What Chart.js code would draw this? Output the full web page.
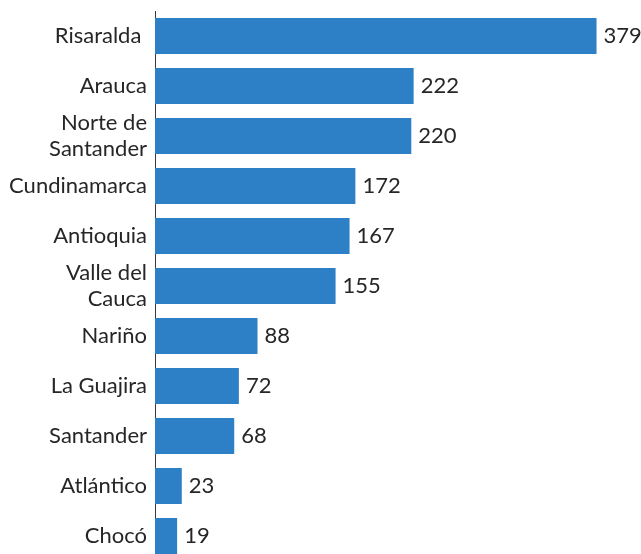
<!DOCTYPE html>
<html>
<head>
<meta charset="utf-8">
<script src="https://cdn.jsdelivr.net/npm/chart.js@4/dist/chart.umd.min.js"></script>
<style>
  html, body { margin: 0; padding: 0; background: #fff; }
  #wrap { width: 641px; height: 554px; overflow: hidden; }
  #box { width: 641px; height: 561px; position: relative; }
</style>
</head>
<body>
<div id="wrap"><div id="box"><canvas id="DeptChart"></canvas></div></div>
<script>
var departamentos = [
	'Risaralda ', 'Arauca', ['Norte de', 'Santander'], 'Cundinamarca', 'Antioquia',
	['Valle del', 'Cauca'], 'Nariño', 'La Guajira', 'Santander', 'Atlántico', 'Chocó'
];
var casos = [379, 222, 220, 172, 167, 155, 88, 72, 68, 23, 19];

var fontName = 'Lato, "Open Sans", sans-serif';
var textColor = '#262626';

// value labels at the end of each bar
var valueLabels = {
	id: 'valueLabels',
	afterDatasetsDraw: function(chart) {
		var ctx = chart.ctx;
		var meta = chart.getDatasetMeta(0);
		ctx.save();
		ctx.font = '22px ' + fontName;
		ctx.fillStyle = textColor;
		ctx.textAlign = 'left';
		ctx.textBaseline = 'middle';
		meta.data.forEach(function(bar, i) {
			ctx.fillText(casos[i], bar.x + 7, bar.y);
		});
		ctx.restore();
	}
};

var ctx = DeptChart.getContext('2d');
var config = {
	type: 'bar',
	data: {
		labels: departamentos,
		datasets: [{
			data: casos,
			backgroundColor: '#2E80C6',
			barPercentage: 0.72,
			categoryPercentage: 1
		}]
	},
	options: {
		indexAxis: 'y',
		responsive: true,
		maintainAspectRatio: false,
		animation: false,
		layout: { padding: { top: 11, right: 20, bottom: 0, left: 0 } },
		plugins: {
			legend: { display: false },
			tooltip: { enabled: false }
		},
		scales: {
			x: {
				display: false,
				min: 0,
				max: 400
			},
			y: {
				afterFit: function(scale) {
					scale.width = 155;
					scale.paddingTop = 0;
					scale.paddingBottom = 0;
				},
				grid: { display: false, drawTicks: false },
				border: { display: true, color: '#3a3a3a', width: 1 },
				ticks: {
					autoSkip: false,
					padding: 8,
					color: textColor,
					font: { family: fontName, size: 22, lineHeight: 1.2 }
				}
			}
		}
	},
	plugins: [valueLabels]
};

var chart = new Chart(ctx, config);
</script>
</body>
</html>
